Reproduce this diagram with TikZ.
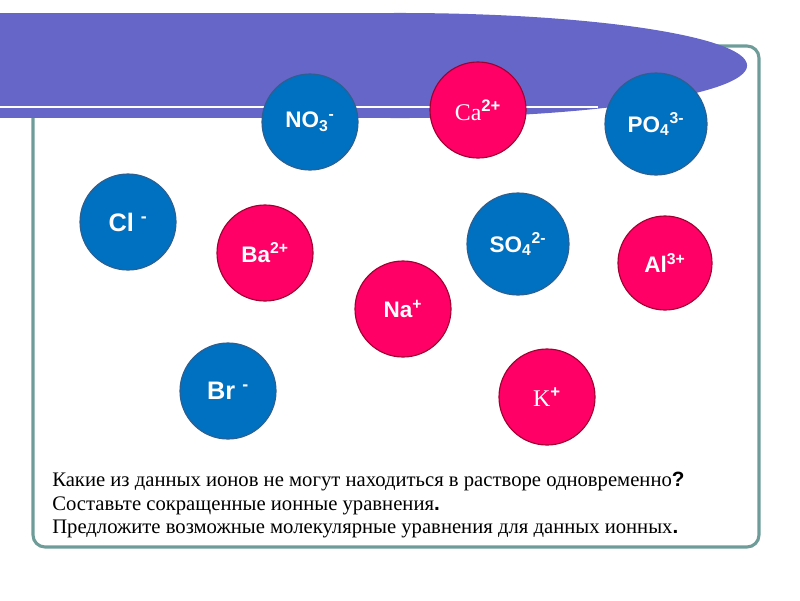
\documentclass[tikz,border=0pt]{standalone}
\usepackage{fontspec}
\setmainfont{Liberation Serif}
\newfontfamily\ionfont{Liberation Sans}
\usetikzlibrary{positioning}

\definecolor{bannerviolet}{HTML}{6666C8}
\definecolor{framegreen}{HTML}{6E9C98}
\definecolor{anionblue}{HTML}{0070C0}
\definecolor{anionedge}{HTML}{2F5F8F}
\definecolor{cationred}{HTML}{FF0066}
\definecolor{cationedge}{HTML}{A00030}

\tikzset{
    ion/.style={circle, minimum size=2.4cm, inner sep=0pt, line width=0.8pt,
        text=white, font=\ionfont\bfseries\fontsize{16}{16}\selectfont},
    anion/.style={ion, fill=anionblue, draw=anionedge},
    cation/.style={ion, fill=cationred, draw=cationedge},
    bigion/.style={font=\ionfont\bfseries\fontsize{18}{18}\selectfont},
    question/.style={anchor=base west, inner sep=0pt, font=\fontsize{14.7}{14.7}\selectfont}
}
\newcommand{\chg}[1]{\textsuperscript{\ionfont\bfseries #1}}
\newcommand{\pnct}[1]{{\ionfont\bfseries #1}}

\begin{document}
\begin{tikzpicture}[x=0.025cm, y=-0.025cm]
    \useasboundingbox (0,0) rectangle (800,600);
    % frame and banner
    \draw[framegreen, line width=2.2pt, rounded corners=0.3cm] (33,46) rectangle (759,547);
    \fill[bannerviolet] (0,13) rectangle (400,118);
    \fill[bannerviolet] (400,65.5) ellipse[x radius=8.675cm, y radius=1.3125cm];
    \draw[white, line width=1.4pt] (0,107) -- (598,107);

    % ions
    \node[anion]  (no3) at (310,122) {NO\textsubscript{3}\textsuperscript{-}};
    \node[cation] (ca)  at (478,110) {\normalfont\fontsize{17}{17}\selectfont Ca\chg{2+}};
    \node[anion, minimum size=2.55cm] (po4) at (656,124) {PO\textsubscript{4}\textsuperscript{3-}};
    \node[anion, bigion] (cl) at (128,222) {Cl \textsuperscript{-}};
    \node[cation] (ba)  at (265,253) {Ba\textsuperscript{2+}};
    \node[anion, minimum size=2.55cm] (so4) at (518,244) {SO\textsubscript{4}\textsuperscript{2-}};
    \node[cation, minimum size=2.35cm] (al) at (665,263) {Al\textsuperscript{3+}};
    \node[cation] (na)  at (403,309) {Na\textsuperscript{+}};
    \node[anion, bigion] (br) at (228,391) {Br \textsuperscript{-}};
    \node[cation] (k)   at (547,397) {\normalfont\fontsize{17}{17}\selectfont K\chg{+}};

    % questions
    \node[question] (q1) at (52,486) {Какие из данных ионов не могут находиться в растворе одновременно\pnct{?}};
    \node[question] (q2) at (52,510) {Составьте сокращенные ионные уравнения\pnct{.}};
    \node[question] (q3) at (52,533) {Предложите возможные молекулярные уравнения для данных ионных\pnct{.}};
\end{tikzpicture}
\end{document}
